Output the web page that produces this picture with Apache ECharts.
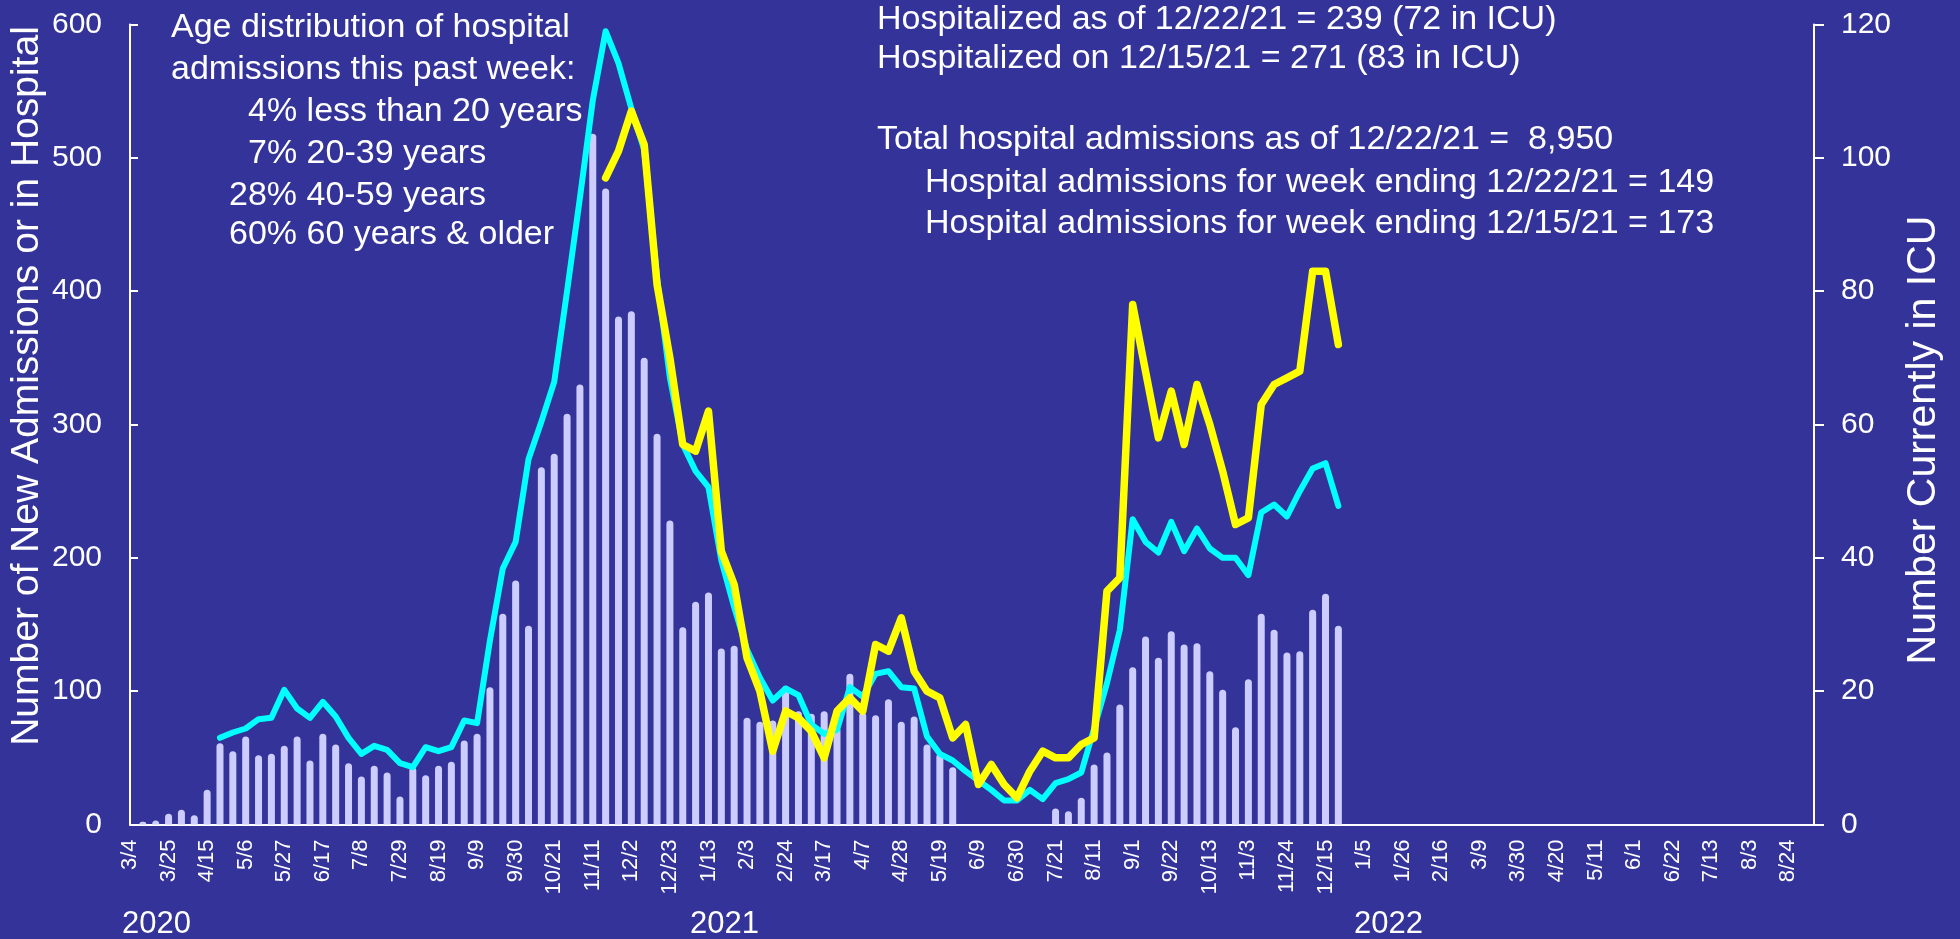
<!DOCTYPE html>
<html>
<head>
<meta charset="utf-8">
<script src="https://cdn.jsdelivr.net/npm/echarts@6/dist/echarts.min.js"></script>
<style>
html,body{margin:0;padding:0;background:#333399;}
#chart{width:1960px;height:939px;}
</style>
</head>
<body>
<div id="chart"></div>
<script>
// Week categories (Wednesdays) from 3/4/2020 to 9/7/2022
const weeks = ['3/4','3/11','3/18','3/25','4/1','4/8','4/15','4/22','4/29','5/6','5/13','5/20','5/27','6/3','6/10','6/17','6/24','7/1','7/8','7/15','7/22','7/29','8/5','8/12','8/19','8/26','9/2','9/9','9/16','9/23','9/30','10/7','10/14','10/21','10/28','11/4','11/11','11/18','11/25','12/2','12/9','12/16','12/23','12/30',
'1/6','1/13','1/20','1/27','2/3','2/10','2/17','2/24','3/3','3/10','3/17','3/24','3/31','4/7','4/14','4/21','4/28','5/5','5/12','5/19','5/26','6/2','6/9','6/16','6/23','6/30','7/7','7/14','7/21','7/28','8/4','8/11','8/18','8/25','9/1','9/8','9/15','9/22','9/29','10/6','10/13','10/20','10/27','11/3','11/10','11/17','11/24','12/1','12/8','12/15','12/22','12/29',
'1/5','1/12','1/19','1/26','2/2','2/9','2/16','2/23','3/2','3/9','3/16','3/23','3/30','4/6','4/13','4/20','4/27','5/4','5/11','5/18','5/25','6/1','6/8','6/15','6/22','6/29','7/6','7/13','7/20','7/27','8/3','8/10','8/17','8/24','8/31','9/7'];

// New hospital admissions per week (left axis)
const admissions = [null,2,3,8,11,7,26,61,55,66,
 52,53,59,66,48,68,60,46,36,44,
 39,21,43,37,44,47,63,68,103,158,
 183,149,268,278,308,330,518,477,381,385,
 350,293,228,148,167,174,132,134,80,77,
 78,104,85,83,85,73,113,84,82,94,
 77,81,60,53,43,null,null,null,null,null,
 null,null,12,10,20,45,54,90,118,141,
 125,145,135,136,115,101,73,109,158,146,
 129,130,161,173,149];

// Number currently in hospital (left axis)
const hospitalized = [null,null,null,null,null,null,null,65,69,72,
 79,80,101,87,80,92,81,65,53,59,
 56,46,43,58,55,58,78,76,138,192,
 212,274,302,332,400,470,543,595,571,537,
 506,410,335,285,265,253,198,163,131,110,
 93,102,97,75,68,71,103,96,113,115,
 103,102,66,53,48,40,33,26,18,18,
 26,19,31,34,39,72,106,146,229,212,
 204,227,205,222,207,200,200,187,234,240,
 231,250,267,271,239];

// Number currently in ICU (right axis)
const icu = [null,null,null,null,null,null,null,null,null,null,
 null,null,null,null,null,null,null,null,null,null,
 null,null,null,null,null,null,null,null,null,null,
 null,null,null,null,null,null,null,97,101,107,
 102,81,70,57,56,62,41,36,25,20,
 11,17,16,14,10,17,19,17,27,26,
 31,23,20,19,13,15,6,9,6,4,
 8,11,10,10,12,13,35,37,78,68,
 58,65,57,66,60,53,45,46,63,66,
 67,68,83,83,72];

const leftAxisTitle = 'Number of New Admissions or in Hospital';
const rightAxisTitle = 'Number Currently in ICU';
const yearLabels = ['2020','2021','2022'];
const ageNotes = ['Age distribution of hospital','admissions this past week:','4% less than 20 years','7% 20-39 years','28% 40-59 years','60% 60 years & older'];
const summaryNotes = ['Hospitalized as of 12/22/21 = 239 (72 in ICU)','Hospitalized on 12/15/21 = 271 (83 in ICU)','Total hospital admissions as of 12/22/21 =  8,950','Hospital admissions for week ending 12/22/21 = 149','Hospital admissions for week ending 12/15/21 = 173'];

const FONT = '"Liberation Sans", Arial, Helvetica, sans-serif';
const WHITE = '#ffffff';

function txt(text, x, y, size, align, rot) {
  return {type:'text', x:x, y:y, z:100, rotation: rot || 0,
    style:{text:text, fill:WHITE, font: size + 'px ' + FONT, textAlign: align || 'left', textVerticalAlign:'middle'}};
}

const agePos = [[171,28],[171,70],[248,112],[248,154],[229,196],[229,235]];
const sumPos = [[877,20],[877,59],[877,140],[925,183],[925,224]];
const yearPos = [[122,924],[690,924],[1354,924]];

const graphics = [];
ageNotes.forEach((t,i)=>graphics.push(txt(t, agePos[i][0], agePos[i][1], 34)));
summaryNotes.forEach((t,i)=>graphics.push(txt(t, sumPos[i][0], sumPos[i][1], 34)));
yearLabels.forEach((t,i)=>graphics.push(txt(t, yearPos[i][0], yearPos[i][1], 31)));
graphics.push(txt(leftAxisTitle, 27, 386, 39, 'center', Math.PI/2));
graphics.push(txt(rightAxisTitle, 1924, 440, 41, 'center', Math.PI/2));

const chart = echarts.init(document.getElementById('chart'), null, {renderer:'canvas'});
chart.setOption({
  backgroundColor:'#333399',
  animation:false,
  textStyle:{fontFamily:FONT},
  grid:{left:130, right:146, top:24.5, bottom:114.5, containLabel:false, outerBoundsMode:'none'},
  xAxis:{
    type:'category', data:weeks, boundaryGap:false,
    axisLine:{show:true, onZero:false, lineStyle:{color:WHITE, width:2}},
    axisTick:{show:false},
    axisLabel:{interval:2, rotate:90, color:WHITE, fontSize:22, fontFamily:FONT, margin:15, hideOverlap:false},
    splitLine:{show:false}
  },
  yAxis:[{
    type:'value', min:0, max:600, interval:100, position:'left',
    axisLine:{show:true, lineStyle:{color:WHITE, width:2}},
    axisTick:{show:true, inside:true, length:8, lineStyle:{color:WHITE, width:2}},
    axisLabel:{color:WHITE, fontSize:30, fontFamily:FONT, margin:28},
    splitLine:{show:false}
  },{
    type:'value', min:0, max:120, interval:20, position:'right',
    axisLine:{show:true, lineStyle:{color:WHITE, width:2}},
    axisTick:{show:true, inside:false, length:10, lineStyle:{color:WHITE, width:2}},
    axisLabel:{color:WHITE, fontSize:30, fontFamily:FONT, margin:27},
    splitLine:{show:false}
  }],
  series:[{
    name:'New admissions', type:'bar', data:admissions, yAxisIndex:0,
    barWidth:7, itemStyle:{color:'#ccccff', borderRadius:[3.5,3.5,0,0]}, z:2
  },{
    name:'In hospital', type:'line', data:hospitalized, yAxisIndex:0,
    showSymbol:false, symbol:'none', connectNulls:false,
    lineStyle:{color:'#00ffff', width:6, cap:'round', join:'round'}, z:3
  },{
    name:'In ICU', type:'line', data:icu, yAxisIndex:1,
    showSymbol:false, symbol:'none', connectNulls:false,
    lineStyle:{color:'#ffff00', width:7.5, cap:'round', join:'round'}, z:4
  }],
  graphic:graphics
});
</script>
</body>
</html>
